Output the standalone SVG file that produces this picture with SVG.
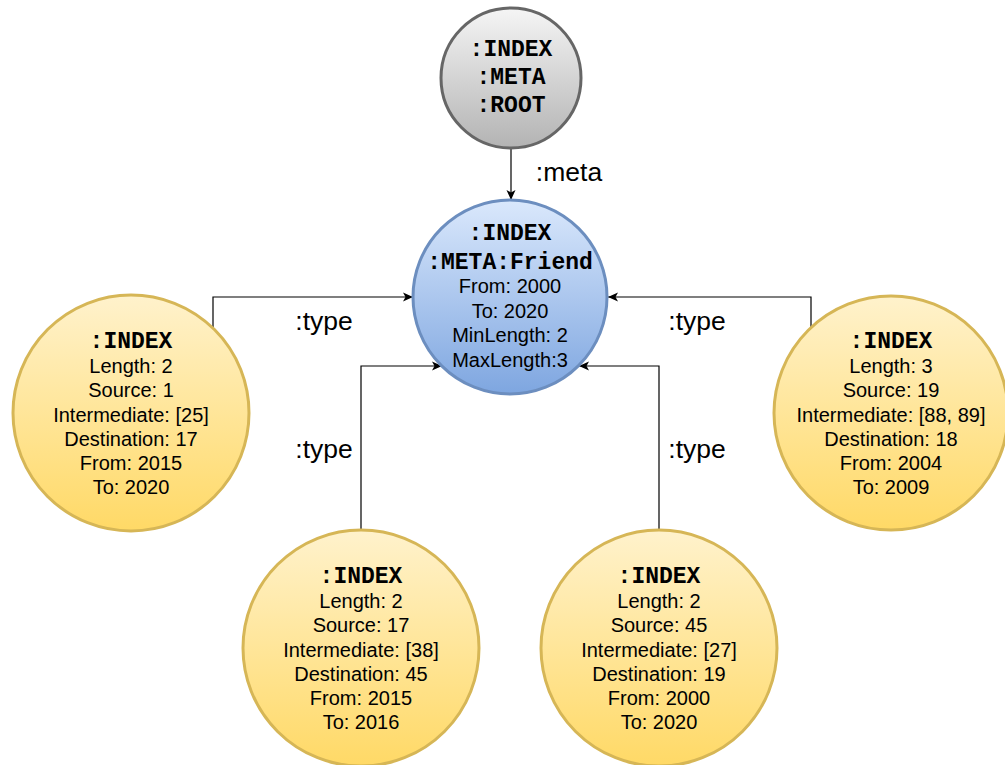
<svg xmlns="http://www.w3.org/2000/svg" width="1005" height="765" viewBox="0 0 1005 765">
<defs>
<linearGradient id="gY" x1="0" y1="0" x2="0" y2="1"><stop offset="0" stop-color="#fff2cc"/><stop offset="1" stop-color="#ffd966"/></linearGradient>
<linearGradient id="gB" x1="0" y1="0" x2="0" y2="1"><stop offset="0" stop-color="#dae8fc"/><stop offset="1" stop-color="#7ea6e0"/></linearGradient>
<linearGradient id="gG" x1="0" y1="0" x2="0" y2="1"><stop offset="0" stop-color="#f5f5f5"/><stop offset="1" stop-color="#b3b3b3"/></linearGradient>
<marker id="arr" markerUnits="userSpaceOnUse" markerWidth="12" markerHeight="10" refX="10" refY="5" orient="auto"><path d="M0,0.5 L10,5 L0,9.5 L2.5,5 Z" fill="#000"/></marker>
<style>
.y{fill:url(#gY);stroke:#d6b656;stroke-width:3}
.b{fill:url(#gB);stroke:#6c8ebf;stroke-width:3}
.g{fill:url(#gG);stroke:#666666;stroke-width:3}
.h{font-family:"Liberation Mono","DejaVu Sans Mono",monospace;font-weight:bold;font-size:23px;fill:#000;text-anchor:middle}
.t{font-family:"Liberation Sans",Arial,sans-serif;font-size:20px;fill:#000;text-anchor:middle}
.l{font-family:"Liberation Sans",Arial,sans-serif;font-size:26.5px;fill:#000;text-anchor:middle}
.c{fill:none;stroke:#000;stroke-width:1.2;marker-end:url(#arr)}
</style>
</defs>
<rect width="1005" height="765" fill="#fff"/>
<g id="connectors">
<path class="c" d="M511 149 V200"/>
<path class="c" d="M213 329 V297 H413"/>
<path class="c" d="M811 327 V297 H608"/>
<path class="c" d="M361 530 V366 H442"/>
<path class="c" d="M659 530 V366 H579"/>
<text class="l" x="569" y="181">:meta</text>
<text class="l" x="324" y="330">:type</text>
<text class="l" x="697" y="330">:type</text>
<text class="l" x="324" y="458">:type</text>
<text class="l" x="697" y="458">:type</text>
</g>
<g id="root">
<circle class="g" cx="511" cy="78" r="70"/>
<text class="h" x="511" y="56">:INDEX</text>
<text class="h" x="511" y="84">:META</text>
<text class="h" x="511" y="112">:ROOT</text>
</g>
<g id="meta">
<circle class="b" cx="510" cy="297" r="97"/>
<text class="h" x="510" y="240">:INDEX</text>
<text class="h" x="510" y="269">:META:Friend</text>
<text class="t" x="510" y="293">From: 2000</text>
<text class="t" x="510" y="318">To: 2020</text>
<text class="t" x="510" y="342">MinLength: 2</text>
<text class="t" x="510" y="367">MaxLength:3</text>
</g>
<g id="n1">
<circle class="y" cx="131" cy="413" r="118"/>
<text class="h" x="131" y="348">:INDEX</text>
<text class="t" x="131" y="373">Length: 2</text>
<text class="t" x="131" y="397">Source: 1</text>
<text class="t" x="131" y="422">Intermediate: [25]</text>
<text class="t" x="131" y="446">Destination: 17</text>
<text class="t" x="131" y="470">From: 2015</text>
<text class="t" x="131" y="494">To: 2020</text>
</g>
<g id="n2">
<circle class="y" cx="891" cy="413" r="117"/>
<text class="h" x="891" y="348">:INDEX</text>
<text class="t" x="891" y="373">Length: 3</text>
<text class="t" x="891" y="397">Source: 19</text>
<text class="t" x="891" y="422">Intermediate: [88, 89]</text>
<text class="t" x="891" y="446">Destination: 18</text>
<text class="t" x="891" y="470">From: 2004</text>
<text class="t" x="891" y="494">To: 2009</text>
</g>
<g id="n3">
<circle class="y" cx="361" cy="648" r="118"/>
<text class="h" x="361" y="583">:INDEX</text>
<text class="t" x="361" y="608">Length: 2</text>
<text class="t" x="361" y="632">Source: 17</text>
<text class="t" x="361" y="657">Intermediate: [38]</text>
<text class="t" x="361" y="681">Destination: 45</text>
<text class="t" x="361" y="705">From: 2015</text>
<text class="t" x="361" y="729">To: 2016</text>
</g>
<g id="n4">
<circle class="y" cx="659" cy="648" r="118"/>
<text class="h" x="659" y="583">:INDEX</text>
<text class="t" x="659" y="608">Length: 2</text>
<text class="t" x="659" y="632">Source: 45</text>
<text class="t" x="659" y="657">Intermediate: [27]</text>
<text class="t" x="659" y="681">Destination: 19</text>
<text class="t" x="659" y="705">From: 2000</text>
<text class="t" x="659" y="729">To: 2020</text>
</g>
</svg>
